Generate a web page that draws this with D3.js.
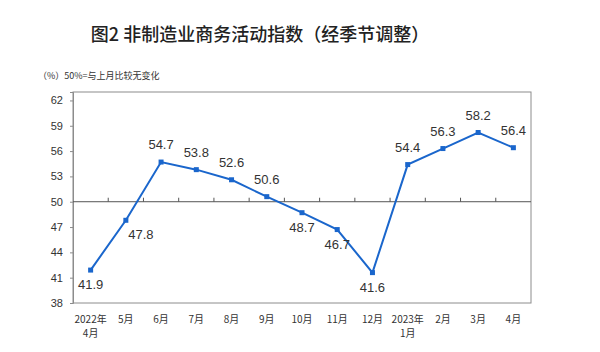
<!DOCTYPE html>
<html>
<head>
<meta charset="utf-8">
<script src="https://cdn.jsdelivr.net/npm/d3@7"></script>
<style>
  body { margin: 0; background: #fff; }
  svg { display: block; font-family: "Noto Sans CJK SC", "Liberation Sans", sans-serif; }
</style>
</head>
<body>
<div id="chart"></div>
<script>
// Chart data
const months = ["2022年\n4月", "5月", "6月", "7月", "8月", "9月", "10月", "11月", "12月", "2023年\n1月", "2月", "3月", "4月"];
const values = [41.9, 47.8, 54.7, 53.8, 52.6, 50.6, 48.7, 46.7, 41.6, 54.4, 56.3, 58.2, 56.4];
// where each value label sits relative to its point
const labelPos = ["below", "belowRight", "above", "above", "above", "above", "below", "below", "below", "above", "above", "above", "above"];
const yTicks = [38, 41, 44, 47, 50, 53, 56, 59, 62];

const W = 600, H = 352;
const margin = { top: 92, right: 69, bottom: 49, left: 73 };
const width = W - margin.left - margin.right;
const height = H - margin.top - margin.bottom;
const lineColor = "#1a66cc";

const svg = d3.select("#chart").append("svg")
    .attr("width", W)
    .attr("height", H);

// Title and note
svg.append("text")
    .attr("x", 260)
    .attr("y", 41)
    .attr("text-anchor", "middle")
    .style("font-size", "18px")
    .style("font-weight", "500")
    .style("fill", "#222")
    .text("图2 非制造业商务活动指数（经季节调整）");

svg.append("text")
    .attr("x", 38)
    .attr("y", 79)
    .style("font-size", "9px")
    .style("fill", "#333")
    .text("（%）50%=与上月比较无变化");

const g = svg.append("g")
    .attr("transform", `translate(${margin.left},${margin.top})`);

const x = d3.scaleBand()
    .domain(months)
    .range([0, width]);

const y = d3.scaleLinear()
    .domain([38, 63])
    .range([height, 0]);

// Plot frame
g.append("rect")
    .attr("width", width)
    .attr("height", height)
    .attr("fill", "none")
    .attr("stroke", "#8c8c8c")
    .attr("stroke-width", 1);

// Y axis
const yAxis = g.append("g")
    .call(d3.axisLeft(y).tickValues(yTicks).tickSize(3).tickPadding(7));
yAxis.select(".domain").attr("stroke", "#8c8c8c");
yAxis.selectAll(".tick line").attr("stroke", "#8c8c8c");
yAxis.selectAll("text")
    .style("font-size", "11px")
    .style("font-family", "Liberation Sans, sans-serif")
    .style("fill", "#333");

// Horizontal axis at 50 with upward ticks at band boundaries
g.append("line")
    .attr("x1", 0)
    .attr("x2", width)
    .attr("y1", y(50))
    .attr("y2", y(50))
    .attr("stroke", "#555")
    .attr("stroke-width", 1);

g.selectAll(".xtick")
    .data(months.slice(1))
    .join("line")
    .attr("x1", d => x(d))
    .attr("x2", d => x(d))
    .attr("y1", y(50))
    .attr("y2", y(50) - 4)
    .attr("stroke", "#555");

// X labels under the frame
const xl = g.selectAll(".xlabel")
    .data(months)
    .join("text")
    .attr("text-anchor", "middle")
    .attr("transform", d => `translate(${x(d) + x.bandwidth() / 2},${height + 20})`)
    .style("font-size", "10px")
    .style("fill", "#333");
xl.each(function (d) {
    d.split("\n").forEach((t, i) => {
        d3.select(this).append("tspan")
            .attr("x", 0)
            .attr("dy", i === 0 ? 0 : 14)
            .text(t);
    });
});

// Line and markers
const pts = months.map((m, i) => ({ m, v: values[i], pos: labelPos[i] }));
const cx = d => x(d.m) + x.bandwidth() / 2;

g.append("path")
    .datum(pts)
    .attr("fill", "none")
    .attr("stroke", lineColor)
    .attr("stroke-width", 2)
    .attr("d", d3.line().x(cx).y(d => y(d.v)));

g.selectAll(".marker")
    .data(pts)
    .join("rect")
    .attr("x", d => cx(d) - 2.5)
    .attr("y", d => y(d.v) - 2.5)
    .attr("width", 5)
    .attr("height", 5)
    .attr("fill", lineColor);

// Value labels
g.selectAll(".vlabel")
    .data(pts)
    .join("text")
    .attr("text-anchor", "middle")
    .attr("x", d => cx(d) + (d.pos === "belowRight" ? 15 : 0))
    .attr("y", d => y(d.v) + (d.pos === "above" ? -13 : 19))
    .style("font-size", "13px")
    .style("font-family", "Liberation Sans, sans-serif")
    .style("fill", "#333")
    .text(d => d.v.toFixed(1));
</script>
</body>
</html>
